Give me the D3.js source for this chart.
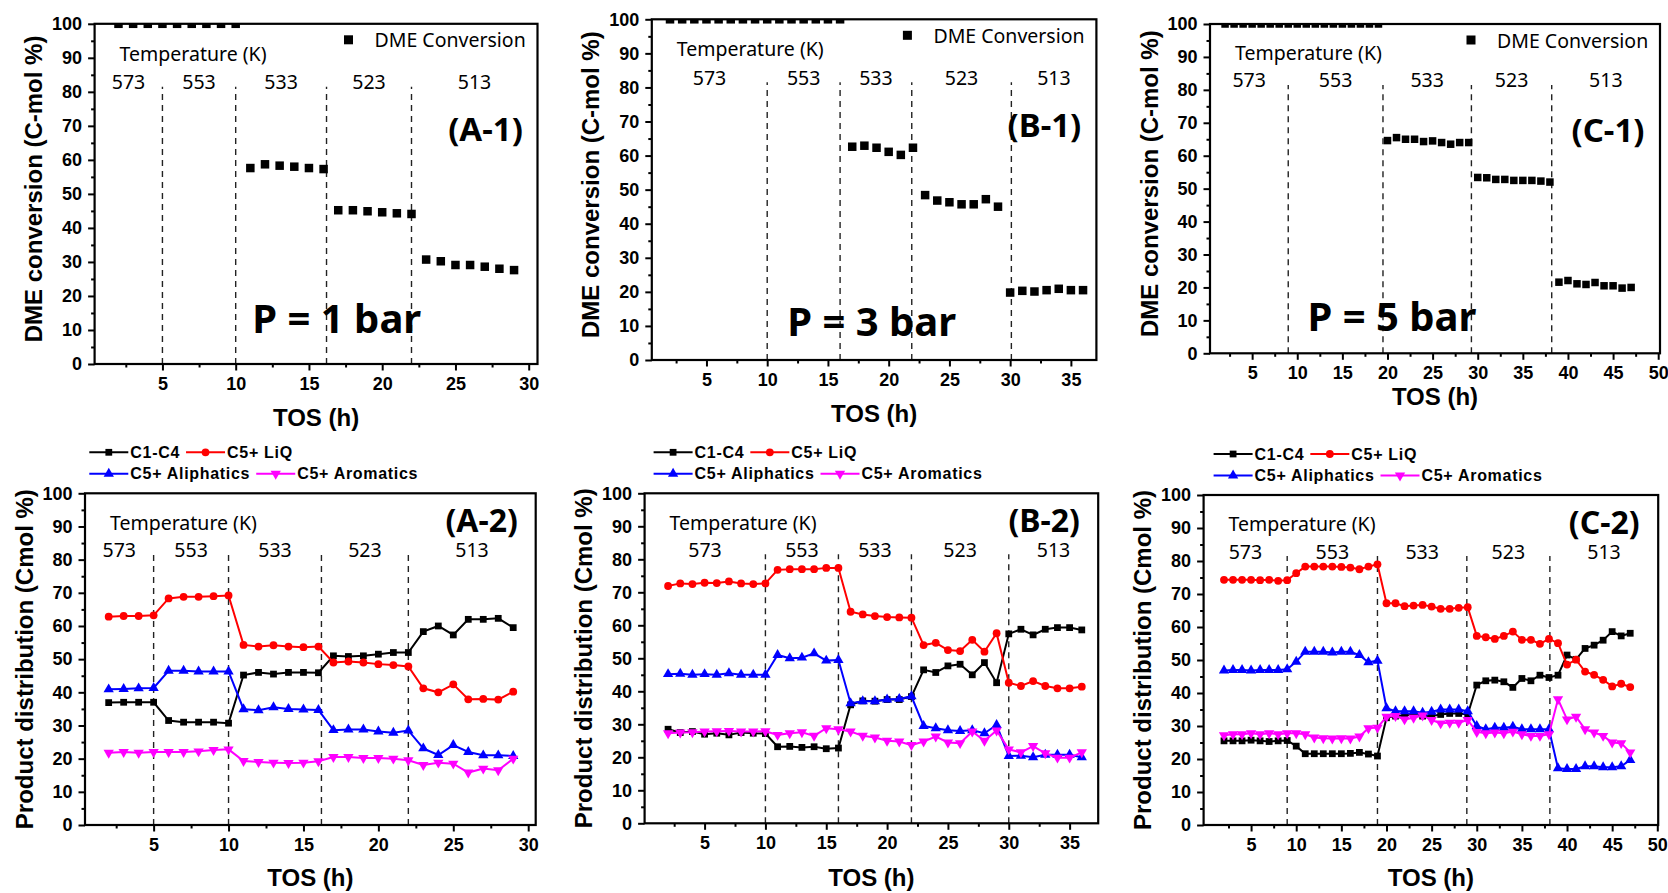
<!DOCTYPE html>
<html>
<head>
<meta charset="utf-8">
<script src="https://cdn.jsdelivr.net/npm/d3@7"></script>
<style>
  body { margin: 0; background: #fff; }
  svg { display: block; }
</style>
</head>
<body>
<div id="chart"></div>
<script>
// ---------- data ----------
const temperatures = ['573', '553', '533', '523', '513'];

// TOS (h) sampling times
const tosA = [2,3,4,5,6,7,8,9,10,11,12,13,14,15,16,17,18,19,20,21,22,23,24,25,26,27,28,29];
const tosB = [2,3,4,5,6,7,8,9,10,11,12,13,14,15,16,17,18,19,20,21,22,23,24,25,26,27,28,29,30,31,32,33,34,35,36];
const tosC = [2,3,4,5,6,7,8,9,10,11,12,13,14,15,16,17,18,19,20,21,22,23,24,25,26,27,28,29,30,31,32,33,34,35,36,37,38,39,40,41,42,43,44,45,46,47];

// times where the temperature was changed (dashed lines)
const switchA1 = [5, 10, 16.2, 22];
const switchB1 = [10, 16, 21.9, 30.1];
const switchC1 = [9, 19.5, 29.3, 38.2];
const switchA2 = [5, 10, 16.2, 22];
const switchB2 = [10, 16, 22, 30];
const switchC2 = [9, 19, 28.9, 38.1];

// DME conversion (C-mol %)
const dmeA = [100,100,100,100,100,100,100,100,100, 57.6,58.7,58.3,58,57.6,57.3,
  45.2,45.2,44.9,44.6,44.3,44.1, 30.7,30.2,29.1,29.1,28.6,28,27.6];
const dmeB = [100,100,100,100,100,100,100,100,100,100,100,100,100,100,100,
  62.6,62.9,62.3,61.1,60.2,62.3, 48.4,46.8,46.3,45.7,45.7,47.2,45,
  19.8,20.3,20.1,20.5,20.9,20.5,20.5];
const dmeC = [100,100,100,100,100,100,100,100,100,100,100,100,100,100,100,100,100,100,
  64.6,65.5,65,65,64.3,64.5,64,63.5,64,64,
  53.4,53.3,52.8,52.8,52.5,52.5,52.5,52.3,52,
  21.6,22.1,21.1,20.9,21.5,20.5,20.5,19.8,20];

// Product distribution (Cmol %), P = 1 bar
const c1c4A = [36.9,37,37,37, 31.5,31,31,31,30.7, 45.2,46,45.5,46,46,45.9,
  51,50.8,51,51.5,52,52, 58.3,60,57.3,62,62,62.3,59.5];
const liqA = [62.8,63,63,63.2, 68.3,68.8,68.8,69,69.2, 54.3,53.8,54.2,53.8,53.6,53.8,
  49,49.3,49,48.5,48.2,47.8, 41.2,40,42.4,37.9,38,37.8,40.2];
const aliA = [40.9,41,41.2,41.3, 46.5,46.5,46.3,46.3,46.3, 34.9,34.6,35.5,35,34.8,34.7,
  28.6,28.8,28.8,28.2,27.8,28.5, 23.1,21.1,24.1,22,21,21,20.8];
const aroA = [21.8,22,21.8,22, 22,22,22.2,22.6,22.8, 19.3,19,18.8,18.7,18.8,19.2,
  20.5,20.5,20.2,20.2,20,19.5, 18.1,18.8,18.5,15.8,17,16.5,20];

// P = 3 bar
const c1c4B = [28.5,27.5,27.8,27,27.3,26.8,27.5,27.3,27.2, 23.2,23.3,23,23.2,22.6,22.8,
  35.9,37.1,37,37.5,37.5,38.4, 46.5,45.7,47.7,48.2,45,48.7,42.6,
  57.4,58.8,57.1,58.8,59.3,59.3,58.6];
const liqB = [71.9,72.7,72.5,72.9,72.8,73.3,72.7,72.5,72.7, 76.8,77,77,77,77.4,77.4,
  64.1,63.3,62.8,62.5,62.4,62.3, 54,54.7,52.5,52.2,55.6,52,57.6,
  42.6,41.6,43.1,41.6,40.9,40.9,41.4];
const aliB = [45.2,45.3,45,45.2,45,45.5,45,45,45, 51,50,50.2,51.5,49.3,49.5,
  36.4,37,37,37.5,37.7,38.5, 29.5,28.8,28.2,28,28.2,27.3,29.8,
  20.4,20.5,20,20.8,20.8,20.8,20];
const aroB = [27.3,27.5,27.6,27.8,27.9,28,27.8,27.8,27.9, 26.8,27.3,27.6,26.5,28.8,28.5,
  27.8,26.5,26,25,24.8,23.7, 24.8,26.3,24.5,24.3,27.8,25,28.1,
  22.4,21.5,23.4,21.2,19.9,19.9,21.5];

// P = 5 bar
const c1c4C = [25.5,25.5,25.5,25.7,25.5,25.3,25.5,25.6,
  23.9,21.6,21.6,21.6,21.6,21.6,21.7,22,21.5,20.9,
  32.5,33,33.2,33.5,33,33,33.5,33.8,33.8,33.5,
  42.4,43.7,43.9,43.4,41.7,44.4,43.7,45.4,44.7,
  45.4,51.5,50.2,53.5,54.5,56,58.6,57.3,58.1];
const liqC = [74.3,74.3,74.3,74.3,74.2,74.3,74,74.2,
  76.3,78.3,78.3,78.3,78.3,78.2,78,77.5,78.3,79,
  67.2,67.2,66.3,66.5,66.7,66.2,65.5,65.5,65.8,66,
  57.3,56.9,56.4,57.3,58.6,56.1,56.1,54.9,56.4,
  55.1,48.6,50.1,46.5,45.5,44,42,42.8,41.8];
const aliC = [46.8,47,47,46.8,47,47,47,47.2,
  49.5,52.5,52.5,52.5,52.3,52.5,52.5,51.5,49.3,49.8,
  35.4,34.5,34.5,34.5,34,34.3,35,35,35,34.5,
  30,29,29.5,29.5,29.8,29,29,29,29,
  17.2,17,17,17.8,17.8,17.5,17.5,17.8,19.7];
const aroC = [27.2,27.5,27.5,27.8,27.5,27.8,27.5,27.8,
  27.8,27.5,26.5,26.3,26.2,26.3,26.2,26.8,29.3,29.5,
  32.8,33,32,32.5,33.2,31.8,30.8,31,31,31.8,
  28.2,27.8,28,27.8,28.3,27.5,27,27,27.5,
  38.1,32,32.8,29,28,27,25,24.8,22];

const seriesNames = ['C1-C4', 'C5+ LiQ', 'C5+ Aliphatics', 'C5+ Aromatics'];

// ---------- layout ----------
const W = 1668, H = 893;
const noto = '"Noto Sans", "DejaVu Sans", sans-serif';
const arial = '"Liberation Sans", Arial, sans-serif';

const svg = d3.select('#chart').append('svg')
    .attr('width', W)
    .attr('height', H)
    .style('font-family', arial);

svg.append('rect').attr('width', W).attr('height', H).attr('fill', '#fff');

const styles = [
  {color: '#000000', sym: 'square'},
  {color: '#ff0000', sym: 'circle'},
  {color: '#0000ff', sym: 'up'},
  {color: '#ff00ff', sym: 'down'}
];

const topPanels = [
  {id: 'A1', frame: [94.6, 537.5, 23.8, 364], xDom: [0.37, 30.6], tos: tosA, dme: dmeA,
   switches: switchA1, tag: '(A-1)', press: 'P = 1 bar', pressAt: [16.9, 13.7], tosY: 426, sq: 8.5},
  {id: 'B1', frame: [651.8, 1096.4, 19.3, 360], xDom: [0.5, 37.1], tos: tosB, dme: dmeB,
   switches: switchB1, tag: '(B-1)', press: 'P = 3 bar', pressAt: [18.6, 11.7], tosY: 422, sq: 8.5},
  {id: 'C1', frame: [1210, 1660, 24, 353.3], xDom: [0.33, 50.2], tos: tosC, dme: dmeC,
   switches: switchC1, tag: '(C-1)', press: 'P = 5 bar', pressAt: [20.5, 11.6], tosY: 405, sq: 7.5}
];

const bottomPanels = [
  {id: 'A2', frame: [85, 535.7, 493.3, 825], xDom: [0.42, 30.5], tos: tosA,
   series: [c1c4A, liqA, aliA, aroA], switches: switchA2, tag: '(A-2)', legendDx: 4.3},
  {id: 'B2', frame: [644.6, 1098.2, 493.3, 823.3], xDom: [0.07, 37.35], tos: tosB,
   series: [c1c4B, liqB, aliB, aroB], switches: switchB2, tag: '(B-2)', legendDx: 9},
  {id: 'C2', frame: [1203.6, 1658.2, 495, 825], xDom: [-0.26, 50.1], tos: tosC,
   series: [c1c4C, liqC, aliC, aroC], switches: switchC2, tag: '(C-2)', legendDx: 10}
];

function marker(sel, sym, cx, cy, color) {
  const gen = d3.symbol();
  if (sym === 'square') gen.type(d3.symbolSquare).size(46);
  else if (sym === 'circle') gen.type(d3.symbolCircle).size(48);
  else gen.type(d3.symbolTriangle).size(46);
  sel.append('path')
      .attr('d', gen())
      .attr('fill', color)
      .attr('transform', 'translate(' + cx + ',' + cy + ')' + (sym === 'down' ? ' rotate(180)' : ''));
}

function buildFrame(p, title) {
  const [L, R, T, B] = p.frame;
  const x = d3.scaleLinear().domain(p.xDom).range([L, R]);
  const y = d3.scaleLinear().domain([0, 100]).range([B, T]);
  const g = svg.append('g');

  const inDom = (v) => v >= p.xDom[0] && v <= p.xDom[1] + 0.01;
  const xMajor = [5, 10, 15, 20, 25, 30, 35, 40, 45, 50].filter(inDom);
  const xMinor = [2.5, 7.5, 12.5, 17.5, 22.5, 27.5, 32.5, 37.5, 42.5, 47.5].filter(inDom);

  g.append('g')
      .attr('class', 'axis')
      .attr('transform', 'translate(0,' + B + ')')
      .call(d3.axisBottom(x).tickValues(xMinor).tickSize(3.5).tickSizeOuter(0).tickFormat(''));
  g.append('g')
      .attr('class', 'axis')
      .attr('transform', 'translate(0,' + B + ')')
      .call(d3.axisBottom(x).tickValues(xMajor).tickSize(6.5).tickSizeOuter(0).tickPadding(6.5));
  g.append('g')
      .attr('class', 'axis')
      .attr('transform', 'translate(' + L + ',0)')
      .call(d3.axisLeft(y).tickValues(d3.range(5, 100, 10)).tickSize(3.5).tickSizeOuter(0).tickFormat(''));
  g.append('g')
      .attr('class', 'axis')
      .attr('transform', 'translate(' + L + ',0)')
      .call(d3.axisLeft(y).tickValues(d3.range(0, 101, 10)).tickSize(6.5).tickSizeOuter(0).tickPadding(6));

  g.selectAll('.axis .domain').remove();
  g.selectAll('.axis line').attr('stroke', '#000').attr('stroke-width', 2);
  g.selectAll('.axis text')
      .attr('fill', '#000')
      .style('font-family', arial)
      .style('font-weight', 'bold')
      .style('font-size', '18px');

  // temperature change markers
  g.selectAll('.sw')
    .data(p.switches)
    .enter()
    .append('line')
      .attr('x1', (d) => x(d)).attr('x2', (d) => x(d))
      .attr('y1', y(0)).attr('y2', y(81.5))
      .attr('stroke', '#222')
      .attr('stroke-width', 1.4)
      .attr('stroke-dasharray', '6,5');

  g.append('text')
      .attr('x', L + 25).attr('y', y(91.3))
      .attr('dominant-baseline', 'central')
      .style('font-family', noto).style('font-size', '19.5px')
      .text('Temperature (K)');

  const bounds = [p.xDom[0]].concat(p.switches, [p.xDom[1]]);
  g.selectAll('.temp')
    .data(temperatures)
    .enter()
    .append('text')
      .attr('x', (d, i) => x((bounds[i] + bounds[i + 1]) / 2))
      .attr('y', y(83))
      .attr('text-anchor', 'middle')
      .attr('dominant-baseline', 'central')
      .style('font-family', noto).style('font-size', '19.5px')
      .text((d) => d);

  // y title
  g.append('text')
      .attr('transform', 'translate(' + (L - 61) + ',' + title.cy + ') rotate(-90)')
      .attr('text-anchor', 'middle')
      .attr('dominant-baseline', 'central')
      .style('font-weight', 'bold').style('font-size', '24px')
      .text(title.text);

  // x title
  g.append('text')
      .attr('x', (L + R) / 2).attr('y', title.tosY)
      .attr('text-anchor', 'middle')
      .style('font-weight', 'bold').style('font-size', '24px')
      .text('TOS (h)');

  svg.append('clipPath').attr('id', 'clip' + p.id)
    .append('rect').attr('x', L).attr('y', T).attr('width', R - L).attr('height', B - T);

  return {g, x, y, L, R, T, B};
}

function drawFrameRect(f) {
  f.g.append('rect')
      .attr('x', f.L).attr('y', f.T)
      .attr('width', f.R - f.L).attr('height', f.B - f.T)
      .attr('fill', 'none')
      .attr('stroke', '#000')
      .attr('stroke-width', 2.2);
}

// ---------- top row: DME conversion ----------
topPanels.forEach((p) => {
  const f = buildFrame(p, {text: 'DME conversion (C-mol %)', cy: (p.frame[2] + p.frame[3]) / 2 - 5, tosY: p.tosY});
  const {g, x, y, L, R, T} = f;

  g.append('g')
      .attr('clip-path', 'url(#clip' + p.id + ')')
    .selectAll('rect')
    .data(p.tos)
    .enter()
    .append('rect')
      .attr('x', (d) => x(d) - p.sq / 2)
      .attr('y', (d, i) => y(p.dme[i]) - p.sq / 2)
      .attr('width', p.sq)
      .attr('height', p.sq)
      .attr('fill', '#000');

  drawFrameRect(f);

  // legend
  g.append('rect')
      .attr('x', R - 189 - 4.5).attr('y', T + 16 - 4.5)
      .attr('width', 9).attr('height', 9).attr('fill', '#000');
  g.append('text')
      .attr('x', R - 163).attr('y', T + 16)
      .attr('dominant-baseline', 'central')
      .style('font-family', noto).style('font-size', '19.5px')
      .text('DME Conversion');

  g.append('text')
      .attr('x', R - 52).attr('y', T + 105)
      .attr('text-anchor', 'middle')
      .attr('dominant-baseline', 'central')
      .style('font-family', noto).style('font-weight', 'bold').style('font-size', '33px')
      .text(p.tag);

  g.append('text')
      .attr('x', x(p.pressAt[0])).attr('y', y(p.pressAt[1]))
      .attr('text-anchor', 'middle')
      .attr('dominant-baseline', 'central')
      .style('font-family', noto).style('font-weight', 'bold').style('font-size', '40px')
      .text(p.press);
});

// ---------- bottom row: product distribution ----------
bottomPanels.forEach((p) => {
  const f = buildFrame(p, {text: 'Product distribution (Cmol %)', cy: (p.frame[2] + p.frame[3]) / 2, tosY: 886});
  const {g, x, y, L, R, T} = f;

  p.series.forEach((vals, k) => {
    const st = styles[k];
    const pts = p.tos.map((t, i) => [t, vals[i]]);
    g.append('path')
        .datum(pts)
        .attr('fill', 'none')
        .attr('stroke', st.color)
        .attr('stroke-width', 2)
        .attr('d', d3.line().x((d) => x(d[0])).y((d) => y(d[1])));
    const mg = g.append('g');
    pts.forEach((d) => marker(mg, st.sym, x(d[0]), y(d[1]), st.color));
  });

  drawFrameRect(f);

  g.append('text')
      .attr('x', R - 54).attr('y', T + 26)
      .attr('text-anchor', 'middle')
      .attr('dominant-baseline', 'central')
      .style('font-family', noto).style('font-weight', 'bold').style('font-size', '32px')
      .text(p.tag);

  // legend, two rows
  const rows = [[0, 1], [2, 3]];
  const rowY = [T - 41, T - 19.5];
  rows.forEach((row, r) => {
    let cx = L + p.legendDx;
    row.forEach((k) => {
      const st = styles[k];
      g.append('line')
          .attr('x1', cx).attr('x2', cx + 39)
          .attr('y1', rowY[r]).attr('y2', rowY[r])
          .attr('stroke', st.color).attr('stroke-width', 2);
      marker(g, st.sym, cx + 19.5, rowY[r], st.color);
      const t = g.append('text')
          .attr('x', cx + 41).attr('y', rowY[r])
          .attr('dominant-baseline', 'central')
          .style('font-weight', 'bold').style('font-size', '16px')
          .style('letter-spacing', '0.7px')
          .text(seriesNames[k]);
      cx += 41 + t.node().getComputedTextLength() + 6;
    });
  });
});
</script>
</body>
</html>
